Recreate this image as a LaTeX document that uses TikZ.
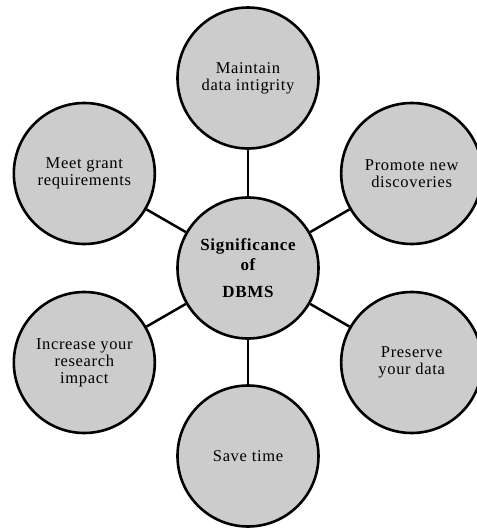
\documentclass[tikz,border=0pt]{standalone}
\usepackage{fontspec}
\setmainfont{Liberation Serif}[LetterSpace=4]
\begin{document}
\begin{tikzpicture}[x=1pt,y=1pt,
	bubble/.style={circle,draw,line width=2.6pt,fill=black!20,minimum size=141pt,inner sep=0pt,align=center,font=\fontsize{16.5}{17}\selectfont},
	hub/.style={bubble,font=\fontsize{17}{20}\selectfont\bfseries},
	link/.style={line width=2.5pt}]
	\useasboundingbox (-248,-263) rectangle (229,268);
	\node[hub] (dbms) at (0,0) {Significance\\of\\[7pt]DBMS};
	\node[bubble] (integrity) at (90:190) {Maintain\\data intigrity};
	\node[bubble] (discover) at (30:189) {Promote new\\discoveries};
	\node[bubble] (preserve) at (-30:189) {Preserve\\your data};
	\node[bubble] (time) at (-90:188) {Save time};
	\node[bubble] (impact) at (210:189) {Increase your\\research\\impact};
	\node[bubble] (grant) at (150:189) {Meet grant\\requirements};
	\foreach \n in {integrity,discover,preserve,time,impact,grant}
		\draw[link] (dbms) -- (\n);
\end{tikzpicture}
\end{document}
